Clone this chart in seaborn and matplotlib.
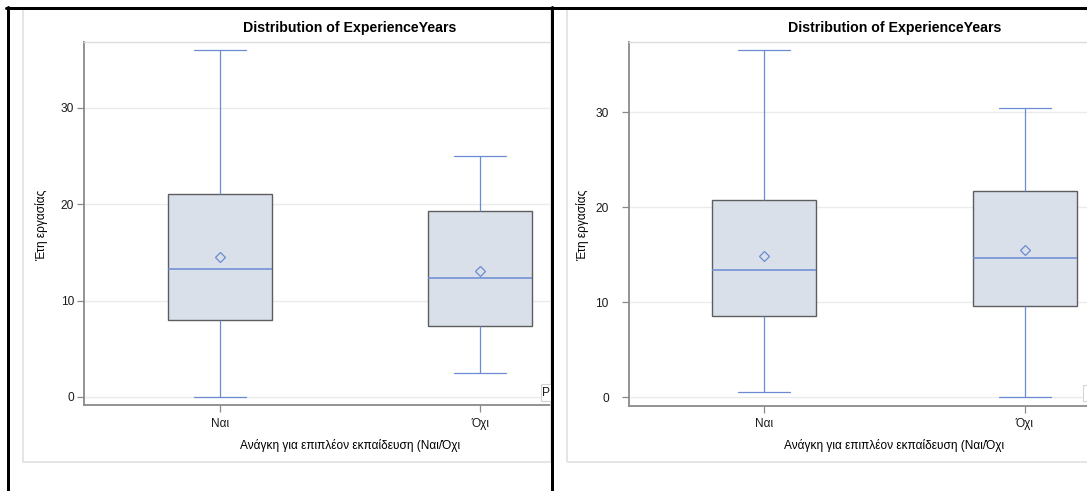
import numpy as np
import pandas as pd
import matplotlib
matplotlib.use("Agg")
import matplotlib.pyplot as plt
from matplotlib.patches import Rectangle
from matplotlib.lines import Line2D
from matplotlib.transforms import blended_transform_factory
import seaborn as sns

# ---- data: five-number summaries and means per group ----
categories = ["Ναι", "Όχι"]

left_min = [0.0, 2.5]
left_q1 = [8.0, 7.4]
left_median = [13.3, 12.3]
left_q3 = [21.0, 19.3]
left_max = [36.0, 25.0]
left_mean = [14.5, 13.1]

right_min = [0.6, 0.0]
right_q1 = [8.6, 9.6]
right_median = [13.4, 14.7]
right_q3 = [20.8, 21.7]
right_max = [36.6, 30.4]
right_mean = [14.9, 15.5]

y_ticks = [0, 10, 20, 30]
title_text = "Distribution of ExperienceYears"
x_label = "Ανάγκη για επιπλέον εκπαίδευση (Ναι/Όχι"
y_label = "Έτη εργασίας"

# ---- style ----
sns.set_style("white")
plt.rcParams["font.family"] = ["Liberation Sans", "DejaVu Sans"]

BOX_FILL = "#d9e0ea"
BOX_EDGE = "#5e5e5e"
LINE_BLUE = "#6b8bd2"
SPINE = "#8a8a8a"
GRID = "#ebebeb"
FRAME = "#e0e0e0"

W, H = 1087, 491
fig = plt.figure(figsize=(W / 100, H / 100), dpi=100)
fig.patch.set_facecolor("white")


def fx(x):
    return x / W


def fy(y):
    return 1 - y / H


def summary_frame(mins, q1s, meds, q3s, maxs):
    # five values per group reproduce the quartiles exactly with whis=(0, 100)
    rows = []
    for cat, a, b, c, d, e in zip(categories, mins, q1s, meds, q3s, maxs):
        for v in (a, b, c, d, e):
            rows.append({"group": cat, "years": v})
    return pd.DataFrame(rows)


def draw_panel(rect, xlim, ylim, stats, means, frame_x, ylab_x, tick_pad):
    # light panel frame
    fig.add_artist(Rectangle((fx(frame_x[0]), fy(461.7)),
                             (frame_x[1] - frame_x[0]) / W, (461.7 - 9) / H,
                             transform=fig.transFigure, fill=False,
                             edgecolor=FRAME, linewidth=1.2, zorder=1))

    ax = fig.add_axes(rect)
    df = summary_frame(*stats)
    sns.boxplot(data=df, x="group", y="years", order=categories, ax=ax,
                whis=(0, 100), width=0.4, color=BOX_FILL, saturation=1,
                linecolor=BOX_EDGE, linewidth=1.0, showfliers=False,
                boxprops=dict(facecolor=BOX_FILL, edgecolor=BOX_EDGE, linewidth=1.0),
                whiskerprops=dict(color=LINE_BLUE, linewidth=0.9),
                capprops=dict(color=LINE_BLUE, linewidth=0.9),
                medianprops=dict(color=LINE_BLUE, linewidth=1.1))
    sns.pointplot(x=categories, y=means, order=categories, ax=ax,
                  color=LINE_BLUE, marker="D", markersize=5.0,
                  markerfacecolor="none", markeredgewidth=0.9,
                  linestyle="none", errorbar=None)

    ax.set_xlim(*xlim)
    ax.set_ylim(*ylim)
    ax.set_yticks(y_ticks)
    ax.set_xlabel("")
    ax.set_ylabel("")
    ax.yaxis.grid(True, color=GRID, linewidth=1.0)
    ax.xaxis.grid(False)
    ax.set_axisbelow(True)

    for side in ("left", "bottom"):
        ax.spines[side].set_color(SPINE)
        ax.spines[side].set_linewidth(1.3)
    ax.spines["top"].set_color("#dcdcdc")
    ax.spines["top"].set_linewidth(1.0)
    ax.spines["right"].set_visible(False)

    ax.tick_params(axis="y", left=True, length=5, width=0.9, color=SPINE,
                   pad=tick_pad, labelsize=8.6, labelcolor="#1a1a1a")
    ax.tick_params(axis="x", bottom=True, length=5, width=0.9, color=SPINE,
                   pad=4, labelsize=8.6, labelcolor="#1a1a1a")

    trans = blended_transform_factory(ax.transData, fig.transFigure)
    ax.text(0.5, fy(27.7), title_text, transform=trans, ha="center",
            va="center", fontsize=10.2, fontweight="bold", color="black")
    ax.text(0.5, fy(445), x_label, transform=trans, ha="center",
            va="center", fontsize=8.6, color="black")
    fig.text(fx(ylab_x), fy(225), y_label, rotation=90, ha="center",
             va="center", fontsize=8.6, color="black")
    return ax


# left panel
draw_panel([fx(84.3), fy(405.3), (550 - 84.3) / W, (405.3 - 41.7) / H],
           (-0.5213, 1.2678), (-0.861, 36.845),
           (left_min, left_q1, left_median, left_q3, left_max), left_mean,
           (22.7, 551), 42, 2.4)

# right panel
draw_panel([fx(628.7), fy(405.7), (W - 628.7) / W, (405.7 - 41.7) / H],
           (-0.5207, 1.2393), (-0.884, 37.43),
           (right_min, right_q1, right_median, right_q3, right_max), right_mean,
           (566.7, W + 5), 583, 9.4)

# small clipped inset boxes near the lower right of each panel
fig.add_artist(Rectangle((fx(540.7), fy(401)), (551 - 540.7) / W, (401 - 384.3) / H,
                         transform=fig.transFigure, facecolor="white",
                         edgecolor="#d4d4d4", linewidth=0.8, zorder=3))
fig.text(fx(542.3), fy(392.8), "P", ha="left", va="center", fontsize=8.6,
         color="#1a1a1a", zorder=4)
fig.add_artist(Rectangle((fx(1083.3), fy(401)), (1095 - 1083.3) / W, (401 - 385) / H,
                         transform=fig.transFigure, facecolor="white",
                         edgecolor="#d4d4d4", linewidth=0.8, zorder=3))

# black outer border and divider
lw = 3 * 0.72
fig.add_artist(Line2D([fx(6), fx(W)], [fy(8), fy(8)], transform=fig.transFigure,
                      color="black", linewidth=lw, zorder=10))
fig.add_artist(Line2D([fx(7.5), fx(7.5)], [fy(6.5), fy(H + 2)], transform=fig.transFigure,
                      color="black", linewidth=lw, zorder=10))
fig.add_artist(Line2D([fx(551.6), fx(551.6)], [fy(6.5), fy(H + 2)], transform=fig.transFigure,
                      color="black", linewidth=lw, zorder=10))

fig.savefig("out.png", dpi=100, facecolor="white")
